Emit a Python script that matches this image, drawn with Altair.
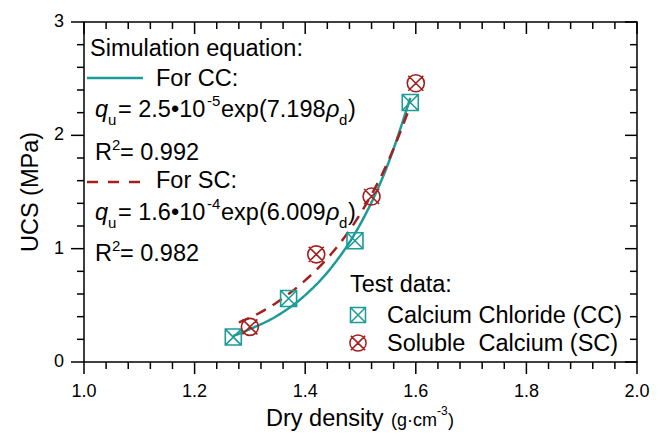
import altair as alt
import pandas as pd

# ---------------- data ----------------
cc_density = [1.27, 1.37, 1.49, 1.59]
cc_ucs = [0.22, 0.56, 1.07, 2.29]
sc_density = [1.30, 1.42, 1.52, 1.60]
sc_ucs = [0.31, 0.95, 1.46, 2.46]

cc_fit_density = [1.27, 1.30, 1.35, 1.40, 1.45, 1.50, 1.55, 1.59]
cc_fit_ucs = [0.23, 0.29, 0.41, 0.59, 0.85, 1.22, 1.75, 2.33]
sc_fit_density = [1.28, 1.30, 1.35, 1.40, 1.45, 1.50, 1.55, 1.59]
sc_fit_ucs = [0.35, 0.39, 0.53, 0.72, 0.97, 1.31, 1.77, 2.26]

x_ticks = [1.0, 1.2, 1.4, 1.6, 1.8, 2.0]
x_tick_labels = ["1.0", "1.2", "1.4", "1.6", "1.8", "2.0"]
y_ticks = [0, 1, 2, 3]
y_tick_labels = ["0", "1", "2", "3"]
x_minor = [1.04, 1.08, 1.12, 1.16, 1.24, 1.28, 1.32, 1.36, 1.44, 1.48, 1.52, 1.56,
           1.64, 1.68, 1.72, 1.76, 1.84, 1.88, 1.92, 1.96]
y_minor = [0.2, 0.4, 0.6, 0.8, 1.2, 1.4, 1.6, 1.8, 2.2, 2.4, 2.6, 2.8]

series_names = ["CC", "SC"]

# ---------------- style ----------------
FONT = "Liberation Sans"
TEAL = "#1c9b98"
RED = "#a3201f"
F = 23.5
S = 15
L, T = 84, 22          # plot-area offset inside the page
W, H = 553, 340

SQX = "M-1,-1L1,-1L1,1L-1,1Z M-1,-1L1,1 M1,-1L-1,1"
CIX = ("M-0.85,0A0.85,0.85,0,1,1,0.85,0A0.85,0.85,0,1,1,-0.85,0Z "
       "M-0.75,-0.75L0.75,0.75 M0.75,-0.75L-0.75,0.75")

xs = alt.Scale(domain=[1.0, 2.0], nice=False, zero=False)
ys = alt.Scale(domain=[0, 3], nice=False, zero=False)

fit_df = pd.DataFrame({
    "x": cc_fit_density + sc_fit_density,
    "y": cc_fit_ucs + sc_fit_ucs,
    "s": [series_names[0]] * len(cc_fit_density) + [series_names[1]] * len(sc_fit_density),
})

curves = alt.Chart(fit_df).mark_line(strokeWidth=2.5, interpolate="monotone").encode(
    x=alt.X("x:Q", scale=xs, axis=None),
    y=alt.Y("y:Q", scale=ys, axis=None),
    color=alt.Color("s:N", scale=alt.Scale(domain=series_names, range=[TEAL, RED]), legend=None),
    strokeDash=alt.StrokeDash("s:N", scale=alt.Scale(domain=series_names, range=[[1, 0], [11, 8]]),
                              legend=None),
    detail="s:N",
)

cc_pts = alt.Chart(pd.DataFrame({"x": cc_density, "y": cc_ucs})).mark_point(
    shape=SQX, size=256, filled=False, color=TEAL, strokeWidth=1.6, opacity=1
).encode(x=alt.X("x:Q", scale=xs, axis=None), y=alt.Y("y:Q", scale=ys, axis=None))

sc_pts = alt.Chart(pd.DataFrame({"x": sc_density, "y": sc_ucs})).mark_point(
    shape=CIX, size=400, filled=False, color=RED, strokeWidth=1.6, opacity=1
).encode(x=alt.X("x:Q", scale=xs, axis=None), y=alt.Y("y:Q", scale=ys, axis=None))


def xrule(vals, y0, y1):
    return alt.Chart(pd.DataFrame({"v": vals})).mark_rule(color="black", strokeWidth=1.5).encode(
        x=alt.X("v:Q", scale=xs, axis=None), y=alt.value(y0), y2=alt.value(y1))


def yrule(vals, x0, x1):
    return alt.Chart(pd.DataFrame({"v": vals})).mark_rule(color="black", strokeWidth=1.5).encode(
        y=alt.Y("v:Q", scale=ys, axis=None), x=alt.value(x0), x2=alt.value(x1))


ticks = [
    xrule(x_ticks, H, H + 12),       # bottom major (out)
    xrule(x_minor, H, H + 7),        # bottom minor (out)
    xrule(x_ticks, 0, 12),           # top major (in)
    xrule(x_minor, 0, 7),            # top minor (in)
    yrule(y_ticks, -13, 0),          # left major (out)
    yrule(y_minor, -7, 0),           # left minor (out)
    yrule(y_ticks, W - 12, W),       # right major (in)
    yrule(y_minor, W - 7, W),        # right minor (in)
]

x_labels = alt.Chart(pd.DataFrame({"v": x_ticks, "t": x_tick_labels})).mark_text(
    align="center", baseline="alphabetic", font=FONT, fontSize=18, color="black"
).encode(x=alt.X("v:Q", scale=xs, axis=None), y=alt.value(397 - T), text="t:N")

y_labels = alt.Chart(pd.DataFrame({"v": y_ticks, "t": y_tick_labels})).mark_text(
    align="right", baseline="middle", font=FONT, fontSize=18, color="black"
).encode(y=alt.Y("v:Q", scale=ys, axis=None), x=alt.value(64 - L), text="t:N")


def txt(s, px, py, size=F, italic=False, angle=0, align="left"):
    return alt.Chart(pd.DataFrame({"t": [s]})).mark_text(
        align=align, baseline="alphabetic", font=FONT, fontSize=size,
        fontStyle="italic" if italic else "normal", color="black", angle=angle
    ).encode(x=alt.value(px - L), y=alt.value(py - T), text="t:N")


one = pd.DataFrame({"a": [0]})
texts = [
    txt("Simulation equation:", 90, 56),
    txt("For CC:", 156, 86),
    txt("q", 95, 117, italic=True), txt("u", 108, 125, S), txt("= 2.5•10", 118, 117),
    txt("-5", 207, 106, S), txt("exp(7.198", 221, 117), txt("ρ", 326, 117, italic=True),
    txt("d", 339, 125, S), txt(")", 348, 117),
    txt("R", 95, 160), txt("2", 112, 150, S), txt("= 0.992", 120, 160),
    txt("For SC:", 156, 188),
    txt("q", 95, 220, italic=True), txt("u", 108, 228, S), txt("= 1.6•10", 118, 220),
    txt("-4", 207, 209, S), txt("exp(6.009", 221, 220), txt("ρ", 326, 220, italic=True),
    txt("d", 339, 228, S), txt(")", 348, 220),
    txt("R", 95, 261), txt("2", 112, 251, S), txt("= 0.982", 120, 261),
    txt("Test data:", 350, 292),
    txt("Calcium Chloride (CC)", 387, 323),
    txt("Soluble\u00a0 Calcium (SC)", 387, 351),
    txt("Dry density", 266, 426),
    txt("(g·cm", 391, 426, 18), txt("-3", 437, 415, 12), txt(")", 448, 426, 18),
    txt("UCS (MPa)", 38, 192, angle=270, align="center"),
]

legend_marks = [
    alt.Chart(one).mark_rule(color=TEAL, strokeWidth=2.5).encode(
        x=alt.value(87 - L), x2=alt.value(143 - L), y=alt.value(78 - T)),
    alt.Chart(one).mark_rule(color=RED, strokeWidth=2.5, strokeDash=[11, 10]).encode(
        x=alt.value(87 - L), x2=alt.value(143 - L), y=alt.value(182 - T)),
    alt.Chart(one).mark_point(shape=SQX, size=225, filled=False, color=TEAL, strokeWidth=1.5,
                              opacity=1).encode(x=alt.value(358 - L), y=alt.value(315 - T)),
    alt.Chart(one).mark_point(shape=CIX, size=361, filled=False, color=RED, strokeWidth=1.5,
                              opacity=1).encode(x=alt.value(358 - L), y=alt.value(343 - T)),
]

chart = alt.layer(curves, cc_pts, sc_pts, *ticks, x_labels, y_labels,
                  *legend_marks, *texts).properties(
    width=W, height=H, autosize="none",
    padding={"left": L, "top": T, "right": 664 - L - W, "bottom": 434 - T - H},
).configure_view(stroke="black", strokeWidth=1.5)

chart.save("out.html", embed_options={"renderer": "svg", "actions": False})
